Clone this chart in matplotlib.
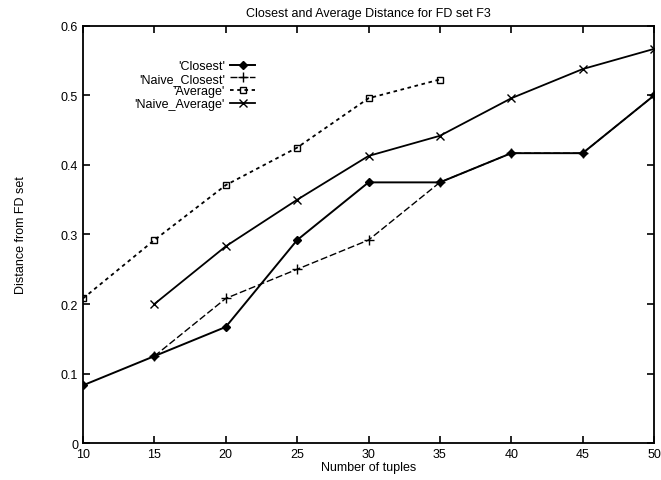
import matplotlib
matplotlib.use('Agg')
from matplotlib import pyplot as plt

plt.rcParams['font.family'] = ['Liberation Sans', 'DejaVu Sans']

# data
x_closest = [10, 15, 20, 25, 30, 35, 40, 45, 50]
y_closest = [0.083, 0.125, 0.167, 0.292, 0.375, 0.375, 0.417, 0.417, 0.5]

x_naive_closest = [15, 20, 25, 30, 35, 40, 45, 50]
y_naive_closest = [0.125, 0.208, 0.25, 0.292, 0.375, 0.417, 0.417, 0.5]

x_average = [10, 15, 20, 25, 30, 35]
y_average = [0.208, 0.292, 0.371, 0.425, 0.496, 0.523]

x_naive_average = [15, 20, 25, 30, 35, 40, 45, 50]
y_naive_average = [0.2, 0.283, 0.35, 0.413, 0.442, 0.496, 0.538, 0.567]

xticks = [10, 15, 20, 25, 30, 35, 40, 45, 50]
yticks = [0, 0.1, 0.2, 0.3, 0.4, 0.5, 0.6]
ytick_labels = ['0', '0.1', '0.2', '0.3', '0.4', '0.5', '0.6']

fig = plt.figure(figsize=(6.61, 4.81), dpi=100)
ax = fig.add_axes([0.1256, 0.0769, 0.8638, 0.867])

ax.plot(x_naive_closest, y_naive_closest, 'k', linestyle=(0, (5, 2)), marker='+', markersize=7,
        linewidth=1.0, label="'Naive_Closest'")
ax.plot(x_closest, y_closest, 'k-', marker='D', markersize=4, linewidth=1.4, label="'Closest'")
ax.plot(x_average, y_average, 'k', linestyle=(0, (2, 2)), marker='s', markersize=5,
        markerfacecolor='none', linewidth=1.3, label="'Average'")
ax.plot(x_naive_average, y_naive_average, 'k-', marker='x', markersize=6, linewidth=1.3,
        label="'Naive_Average'")

ax.set_xlim(10, 50)
ax.set_ylim(0, 0.6)
ax.set_xticks(xticks)
ax.set_yticks(yticks)
ax.set_yticklabels(ytick_labels)
ax.tick_params(direction='in', top=True, right=True, labelsize=9, length=5, width=1.2)
for sp in ax.spines.values():
    sp.set_linewidth(1.3)

ax.set_title('Closest and Average Distance for FD set F3', fontsize=9, pad=7)
ax.set_xlabel('Number of tuples', fontsize=9, labelpad=1)
ax.set_ylabel('Distance from FD set', fontsize=9, labelpad=24)

# legend order as in the reference
handles, labels = ax.get_legend_handles_labels()
order = [1, 0, 2, 3]
ax.legend([handles[i] for i in order], [labels[i] for i in order],
          loc='upper right', bbox_to_anchor=(0.31, 0.93), frameon=False, markerfirst=False,
          fontsize=9, handlelength=2.0, labelspacing=0.05, handletextpad=0.4, borderaxespad=0)

plt.savefig('out.png', dpi=100)
